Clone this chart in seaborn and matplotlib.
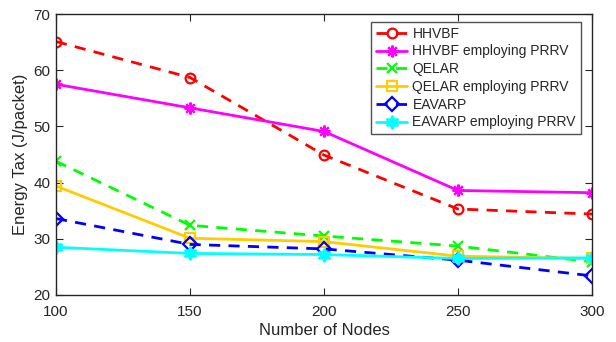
import matplotlib
matplotlib.use("Agg")
import matplotlib.pyplot as plt
import seaborn as sns
import pandas as pd

nodes = [100, 150, 200, 250, 300]
hhvbf = [65.1, 58.7, 44.9, 35.3, 34.4]
hhvbf_prrv = [57.5, 53.3, 49.1, 38.6, 38.2]
qelar = [43.8, 32.4, 30.5, 28.7, 25.9]
qelar_prrv = [39.4, 30.1, 29.5, 26.9, 26.5]
eavarp = [33.6, 29.0, 28.2, 26.2, 23.4]
eavarp_prrv = [28.5, 27.4, 27.2, 26.5, 26.6]

names = ["HHVBF", "HHVBF employing PRRV", "QELAR", "QELAR employing PRRV",
         "EAVARP", "EAVARP employing PRRV"]
series = [hhvbf, hhvbf_prrv, qelar, qelar_prrv, eavarp, eavarp_prrv]
colors = ["#FF0000", "#FF00FF", "#00FF00", "#FFCC00", "#0000FF", "#00FFFF"]
markers = ["o", (8, 2, 0), "x", "s", "D", (6, 1, 0)]
sizes = [7, 8.5, 6.5, 6.5, 7, 9.5]
styles = [(0, (4, 3)), "-", (0, (4, 3)), "-", (0, (4, 3)), "-"]
hollow = [True, False, False, True, True, False]

sns.set_style("ticks")
plt.rcParams['font.family'] = ['Liberation Sans', 'DejaVu Sans']

fig = plt.figure(figsize=(6.16, 3.42), dpi=100)
ax = fig.add_axes([56/616, 1-295/342, (592-56)/616, (295-14)/342])

for name, vals, c, m, ms, ls, h in zip(names, series, colors, markers, sizes, styles, hollow):
    df = pd.DataFrame({"Nodes": nodes, "Tax": vals})
    sns.lineplot(data=df, x="Nodes", y="Tax", ax=ax, color=c, lw=2,
                 marker=m, markersize=ms, markerfacecolor="none" if h else c,
                 markeredgecolor=c, markeredgewidth=1.6, label=name,
                 linestyle=ls)

ax.set_xlim(100, 300)
ax.set_ylim(20, 70)
ax.set_xticks([100, 150, 200, 250, 300])
ax.set_yticks([20, 30, 40, 50, 60, 70])
ax.set_xlabel("Number of Nodes", fontsize=12, labelpad=3)
ax.set_ylabel("Energy Tax (J/packet)", fontsize=12, labelpad=4)
ax.tick_params(direction="in", top=True, right=True, labelsize=11, length=5, color="#262626")
ax.tick_params(axis="x", pad=7)
ax.tick_params(axis="y", pad=4)
for s in ax.spines.values():
    s.set_visible(True)
    s.set_linewidth(1.0)
    s.set_color("#262626")
ax.grid(False)

leg = ax.legend(loc="upper right", bbox_to_anchor=(0.979, 0.972), borderaxespad=0,
                fontsize=10, frameon=True, fancybox=False, edgecolor="#262626",
                handlelength=2.2, labelspacing=0.27, borderpad=0.35, handletextpad=0.4)
leg.get_frame().set_linewidth(1.0)

fig.savefig("out.png", dpi=100)
